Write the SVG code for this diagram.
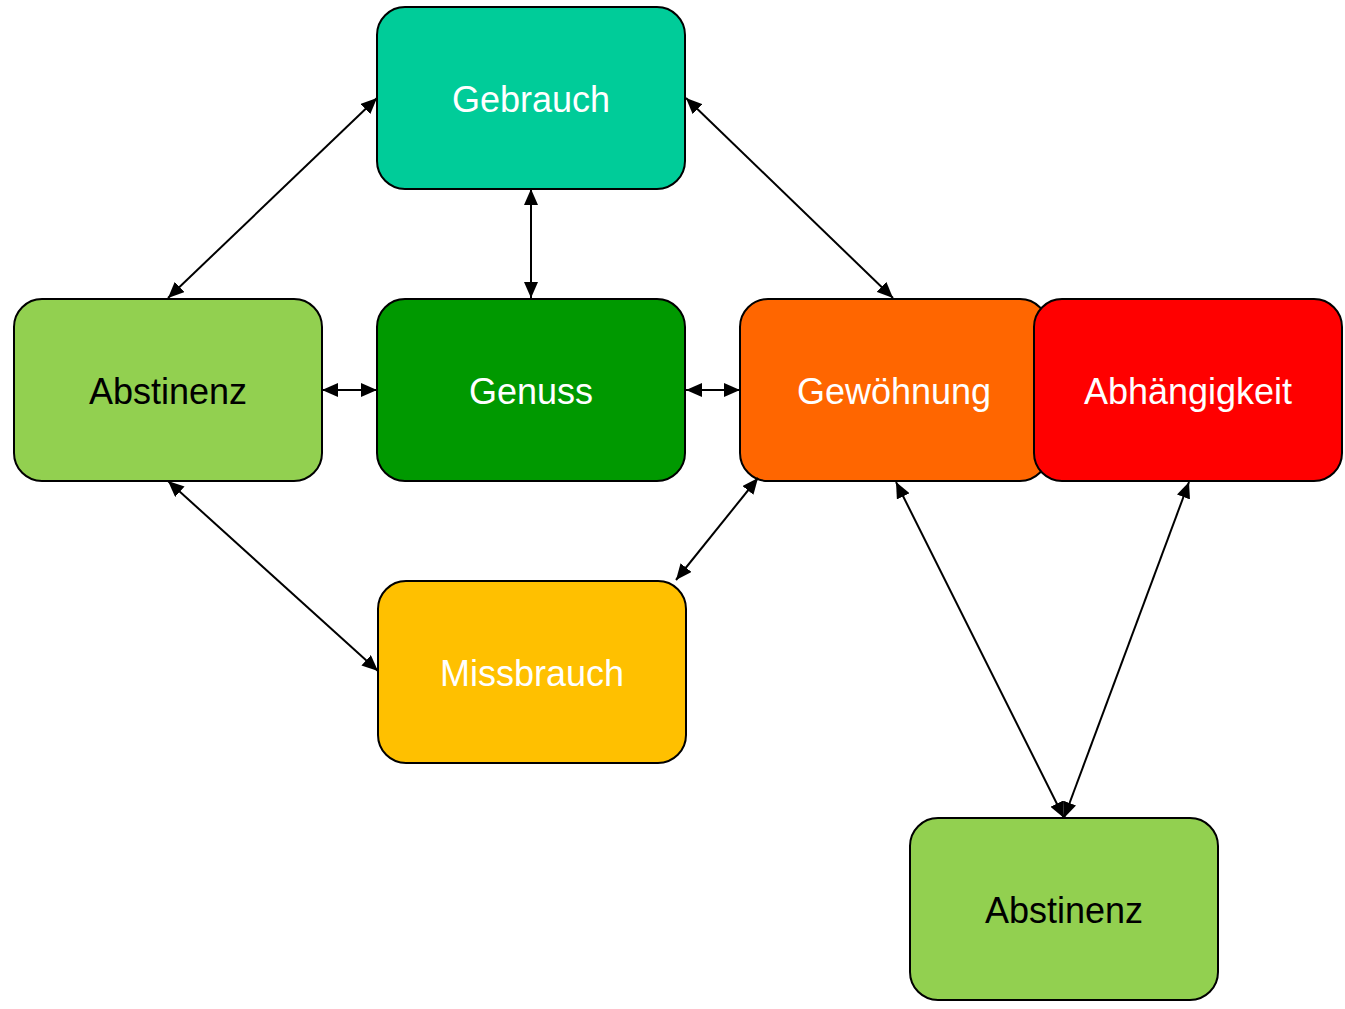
<svg xmlns="http://www.w3.org/2000/svg" width="1345" height="1009" viewBox="0 0 1345 1009">
<defs>
<marker id="ah" viewBox="0 0 16 14" refX="16" refY="7" markerWidth="16" markerHeight="14" markerUnits="userSpaceOnUse" orient="auto-start-reverse">
<path d="M0,0 L16,7 L0,14 z" fill="#000"/>
</marker>
<style>
.box{stroke:#000;stroke-width:2}
.t{font-family:"Liberation Sans",Arial,sans-serif;font-size:36px;text-anchor:middle;dominant-baseline:central}
.w{fill:#fff}
.k{fill:#000}
.c{stroke:#000;stroke-width:2;fill:none;marker-start:url(#ah);marker-end:url(#ah)}
</style>
</defs>
<rect width="1345" height="1009" fill="#fff"/>
<g id="gebrauch"><rect class="box" x="377" y="7" width="308" height="182" rx="28" fill="#00CC99"/><text class="t w" x="531" y="99">Gebrauch</text></g>
<g id="abstinenz1"><rect class="box" x="14" y="299" width="308" height="182" rx="28" fill="#92D050"/><text class="t k" x="168" y="391">Abstinenz</text></g>
<g id="genuss"><rect class="box" x="377" y="299" width="308" height="182" rx="28" fill="#009900"/><text class="t w" x="531" y="391">Genuss</text></g>
<g id="gewoehnung"><rect class="box" x="740" y="299" width="308" height="182" rx="28" fill="#FF6600"/><text class="t w" x="894" y="391">Gewöhnung</text></g>
<g id="abhaengigkeit"><rect class="box" x="1034" y="299" width="308" height="182" rx="28" fill="#FF0000"/><text class="t w" x="1188" y="391">Abhängigkeit</text></g>
<g id="missbrauch"><rect class="box" x="378" y="581" width="308" height="182" rx="28" fill="#FFC000"/><text class="t w" x="532" y="673">Missbrauch</text></g>
<g id="abstinenz2"><rect class="box" x="910" y="818" width="308" height="182" rx="28" fill="#92D050"/><text class="t k" x="1064" y="910">Abstinenz</text></g>
<g id="connectors">
<line class="c" x1="377" y1="98" x2="168" y2="298"/>
<line class="c" x1="531" y1="189" x2="531" y2="298"/>
<line class="c" x1="686" y1="98" x2="893" y2="298"/>
<line class="c" x1="322" y1="390" x2="377" y2="390"/>
<line class="c" x1="686" y1="390" x2="740" y2="390"/>
<line class="c" x1="168" y1="481" x2="378" y2="671"/>
<line class="c" x1="758" y1="478" x2="676" y2="580"/>
<line class="c" x1="896" y1="482" x2="1064" y2="818"/>
<line class="c" x1="1189" y1="482" x2="1064" y2="818"/>
</g>
</svg>
